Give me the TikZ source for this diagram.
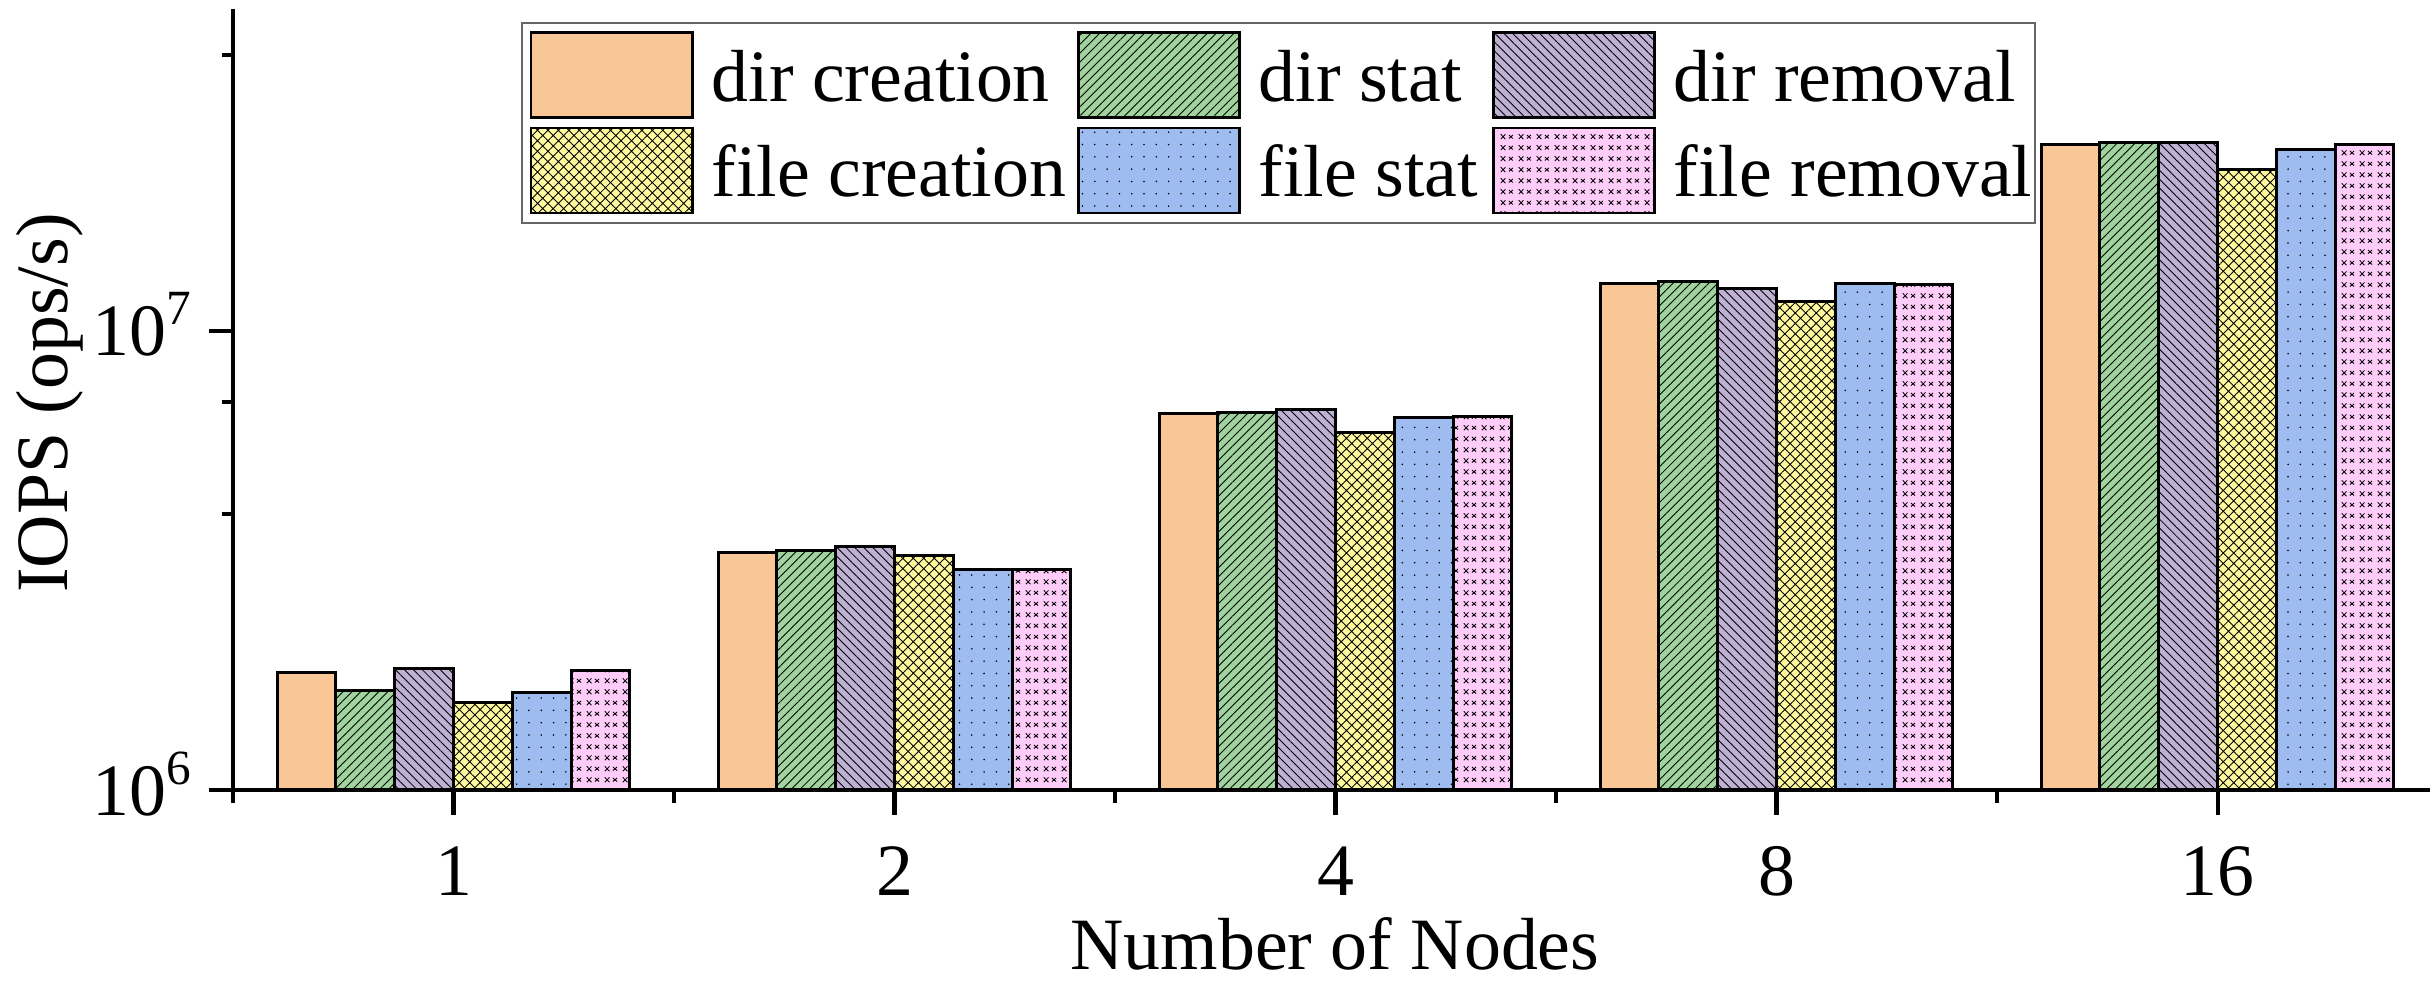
\documentclass[tikz,border=0pt]{standalone}
\usepackage{fontspec}
\setmainfont{Liberation Serif}
\usetikzlibrary{patterns.meta}

\definecolor{cDirCre}{HTML}{F9C795}
\definecolor{cDirStat}{HTML}{A1D39F}
\definecolor{cDirRem}{HTML}{BFB1D4}
\definecolor{cFileCre}{HTML}{FFFA9E}
\definecolor{cFileStat}{HTML}{9EBCF0}
\definecolor{cFileRem}{HTML}{FDCCF8}

% small x marks for the file removal bars
\tikzdeclarepattern{
  name=tinyx,
  type=uncolored,
  bounding box={(0pt,0pt) and (5.2pt,3.1pt)},
  tile size={(5.2pt,3.1pt)},
  code={
    \draw[line width=0.25pt] (0.8pt,0.8pt) -- (2.2pt,2.2pt) (0.8pt,2.2pt) -- (2.2pt,0.8pt);
    \draw[line width=0.25pt] (3.2pt,1.0pt) -- (4.4pt,2.0pt) (3.2pt,2.0pt) -- (4.4pt,1.0pt);
  }
}

\begin{document}
\begin{tikzpicture}[font=\fontsize{21}{25}\selectfont, line cap=butt,
    bar/.style={draw=black, line width=0.85pt, pattern color=black},
    dcre/.style={bar, fill=cDirCre},
    dstat/.style={bar, preaction={fill=cDirStat}, pattern={Lines[angle=45,distance=1.8pt,line width=0.25pt]}},
    dremo/.style={bar, preaction={fill=cDirRem}, pattern={Lines[angle=-45,distance=1.8pt,line width=0.25pt]}},
    fcre/.style={bar, preaction={fill=cFileCre}, pattern={Hatch[angle=45,distance=2.1pt,line width=0.25pt]}},
    fstat/.style={bar, preaction={fill=cFileStat}, pattern={Dots[distance=3.5pt,radius=0.25pt]}},
    fremo/.style={bar, preaction={fill=cFileRem}, pattern=tinyx},
    axis/.style={line width=1.15pt}]
  \useasboundingbox (0,0) rectangle (24.3,9.81);
  % --- Bars (values in 10^6 ops/s) ---
  \foreach \s/\sty/\vals in {0/dcre/{1.80,3.29,6.62,12.7,25.5},
                             1/dstat/{1.65,3.33,6.66,12.8,25.7},
                             2/dremo/{1.84,3.40,6.76,12.4,25.7},
                             3/fcre/{1.55,3.24,6.00,11.6,22.5},
                             4/fstat/{1.63,3.02,6.47,12.7,24.9},
                             5/fremo/{1.82,3.02,6.50,12.6,25.5}}
    \foreach \v [count=\k from 0] in \vals
      \draw[\sty] ({2.771+4.41*\k+0.588*\s},1.91) rectangle ++(0.588,{4.59*log10(\v)});
  % --- Axes ---
  \draw[axis] (2.33,9.72) -- (2.33,1.91) -- (24.3,1.91);
  \foreach \v in {1,10} \draw[axis] (2.09,{1.91+4.59*log10(\v)}) -- (2.33,{1.91+4.59*log10(\v)});
  \foreach \v in {4,7,40} \draw[axis] (2.22,{1.91+4.59*log10(\v)}) -- (2.33,{1.91+4.59*log10(\v)});
  \foreach \k in {0,...,4} {
    \draw[axis] ({4.535+4.41*\k},1.91) -- ({4.535+4.41*\k},1.66);
    \draw[axis] ({2.33+4.41*\k},1.91) -- ({2.33+4.41*\k},1.78);
  }
  % --- Tick labels ---
  \node[anchor=base east, inner sep=0] (y6) at (1.92,1.66) {10\raisebox{0.42em}{\fontsize{14}{14}\selectfont 6}};
  \node[anchor=base east, inner sep=0] (y7) at (1.92,6.25) {10\raisebox{0.42em}{\fontsize{14}{14}\selectfont 7}};
  \foreach \lab [count=\k from 0] in {1,2,4,8,16}
    \node[anchor=base, inner sep=0] (x\lab) at ({4.535+4.41*\k},0.86) {\lab};
  \node[anchor=base, inner sep=0] (xtitle) at (13.35,0.12) {Number of Nodes};
  \node[anchor=base, inner sep=0, rotate=90] (ytitle) at (0.67,5.78) {IOPS (ops/s)};
  % --- Legend ---
  \draw[black!60, line width=0.4pt, fill=white] (5.22,7.58) rectangle (20.35,9.58);
  \foreach \x/\y/\sty/\txt [count=\i] in {5.31/8.63/dcre/dir creation, 10.78/8.63/dstat/dir stat,
                                      14.93/8.63/dremo/dir removal, 5.31/7.68/fcre/file creation,
                                      10.78/7.68/fstat/file stat, 14.93/7.68/fremo/file removal} {
    \draw[\sty] (\x,\y) rectangle ++(1.61,0.85);
    \node[anchor=base west, inner sep=0] (leg\i) at (\x+1.8,\y+0.16) {\txt};
  }
\end{tikzpicture}
\end{document}
